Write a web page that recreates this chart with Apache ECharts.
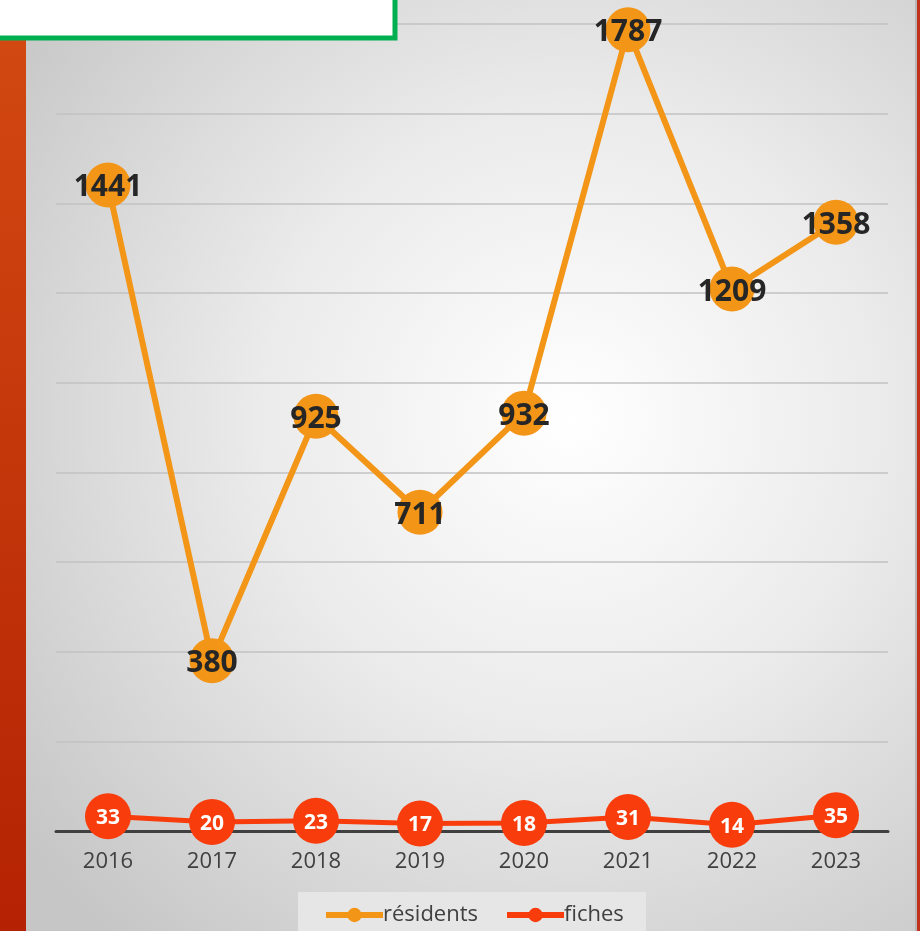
<!DOCTYPE html>
<html>
<head>
<meta charset="utf-8">
<script src="https://cdn.jsdelivr.net/npm/echarts@6/dist/echarts.min.js"></script>
<style>
  html, body { margin: 0; padding: 0; background: #d0d0d0; }
  #chart { width: 920px; height: 931px; }
</style>
</head>
<body>
<div id="chart"></div>
<script>
const years = ['2016', '2017', '2018', '2019', '2020', '2021', '2022', '2023'];
const residents = [1441, 380, 925, 711, 932, 1787, 1209, 1358];
const fiches = [33, 20, 23, 17, 18, 31, 14, 35];

const FONT = '"Open Sans", "DejaVu Sans", sans-serif';
const ORANGE = '#F39517';
const RED = '#F83C0B';

const chart = echarts.init(document.getElementById('chart'), null, { renderer: 'canvas' });

chart.setOption({
    animation: false,
    textStyle: { fontFamily: FONT },
    graphic: [
        {
            // page background, light in the middle, gray at the edges
            type: 'rect', z: -10, silent: true,
            shape: { x: 0, y: 0, width: 920, height: 931 },
            style: {
                fill: new echarts.graphic.RadialGradient(0.62, 0.45, 0.75, [
                    { offset: 0, color: '#ffffff' },
                    { offset: 0.45, color: '#ebebeb' },
                    { offset: 1, color: '#c6c6c6' },
                ]),
            },
        },
        {
            type: 'rect', z: -9, silent: true,
            shape: { x: 0, y: 0, width: 26, height: 931 },
            style: {
                fill: new echarts.graphic.LinearGradient(0, 0, 0, 1, [
                    { offset: 0, color: '#D34A12' },
                    { offset: 1, color: '#B42203' },
                ]),
            },
        },
        {
            type: 'rect', z: -9, silent: true,
            shape: { x: 915, y: 0, width: 2, height: 931 },
            style: { fill: '#b8b8b8' },
        },
        {
            type: 'rect', z: -9, silent: true,
            shape: { x: 917, y: 0, width: 3, height: 931 },
            style: { fill: '#C0331A' },
        },
        {
            // legend panel
            type: 'rect', z: -8, silent: true,
            shape: { x: 298, y: 892, width: 348, height: 45 },
            style: { fill: '#e6e6e6' },
        },
        {
            // title box, cut by the top edge
            type: 'rect', z: 100, silent: true,
            shape: { x: -6, y: -6, width: 401, height: 44 },
            style: { fill: '#ffffff', stroke: '#00B050', lineWidth: 5 },
        },
    ],
    grid: { left: 56, right: 32, top: 24, bottom: 100 },
    legend: {
        data: ['résidents', 'fiches'],
        left: 318,
        top: 899,
        itemWidth: 57,
        itemHeight: 18,
        itemGap: 26,
        lineStyle: { width: 6 },
        textStyle: { color: '#404040', fontSize: 22, fontFamily: FONT, padding: [0, 0, 0, -5] },
    },
    xAxis: {
        type: 'category',
        data: years,
        boundaryGap: true,
        axisLine: { lineStyle: { color: '#404040', width: 3 } },
        axisTick: { show: false },
        axisLabel: { color: '#404040', fontSize: 22, margin: 20, fontFamily: FONT },
    },
    yAxis: {
        type: 'value',
        min: 0,
        max: 1800,
        interval: 200,
        axisLine: { show: false },
        axisTick: { show: false },
        axisLabel: { show: false },
        splitLine: { lineStyle: { color: '#c2c2c2', width: 1.5 } },
    },
    series: [
        {
            name: 'résidents',
            type: 'line',
            data: residents,
            symbol: 'circle',
            symbolSize: 45,
            itemStyle: { color: ORANGE },
            lineStyle: { color: ORANGE, width: 6 },
            label: {
                show: true,
                position: 'inside',
                offset: [0, 3],
                color: '#262626',
                fontSize: 30,
                fontWeight: 'bold',
                fontFamily: FONT,
            },
        },
        {
            name: 'fiches',
            type: 'line',
            data: fiches,
            symbol: 'circle',
            symbolSize: 46,
            itemStyle: { color: RED },
            lineStyle: { color: RED, width: 5 },
            label: {
                show: true,
                position: 'inside',
                offset: [0, 2],
                color: '#ffffff',
                fontSize: 21,
                fontWeight: 'bold',
                fontFamily: FONT,
            },
        },
    ],
});
</script>
</body>
</html>
